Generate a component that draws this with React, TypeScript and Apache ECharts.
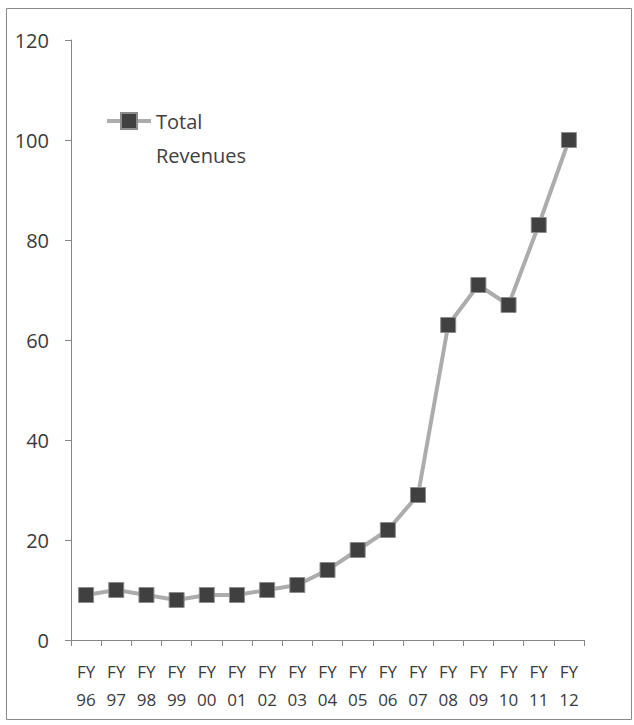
import React, { useEffect, useRef } from "react";
import * as echarts from "echarts";

const categories = ["FY\n96", "FY\n97", "FY\n98", "FY\n99", "FY\n00", "FY\n01", "FY\n02", "FY\n03", "FY\n04", "FY\n05", "FY\n06", "FY\n07", "FY\n08", "FY\n09", "FY\n10", "FY\n11", "FY\n12"];
const totalRevenues = [9, 10, 9, 8, 9, 9, 10, 11, 14, 18, 22, 29, 63, 71, 67, 83, 100];
const seriesName = "Total Revenues";
const yMin = 0;
const yMax = 120;
const yInterval = 20;

const FONT = "'Open Sans', 'Noto Sans', sans-serif";

export default function App() {
  const ref = useRef<HTMLDivElement>(null);
  useEffect(() => {
    if (!ref.current) return;
    const chart = echarts.init(ref.current, undefined, { renderer: "svg" });
    chart.setOption({
      animation: false,
      backgroundColor: "#ffffff",
      textStyle: { fontFamily: FONT },
      graphic: [
        {
          type: "rect",
          shape: { x: 6.5, y: 8.5, width: 625, height: 711 },
          style: { fill: "none", stroke: "#8a8a8a", lineWidth: 1 },
          z: 0,
          silent: true,
        },
      ],
      grid: { left: 71, right: 50, top: 40, bottom: 85, containLabel: false },
      legend: {
        left: 105,
        top: 70,
        padding: 0,
        itemWidth: 44,
        itemHeight: 20,
        itemGap: 5,
        data: [seriesName],
        formatter: () => " \nTotal\nRevenues",
        lineStyle: { color: "#acacac", width: 4 },
        textStyle: {
          fontFamily: FONT,
          fontSize: 20,
          color: "#404040",
          lineHeight: 34,
        },
      },
      xAxis: {
        type: "category",
        data: categories,
        boundaryGap: true,
        axisLine: { show: true, lineStyle: { color: "#868686", width: 1 } },
        axisTick: { show: true, interval: 0, length: 6, inside: false, lineStyle: { color: "#868686" } },
        axisLabel: {
          interval: 0,
          margin: 17,
          fontFamily: FONT,
          fontSize: 17,
          lineHeight: 28,
          color: "#3a3a3a",
        },
        splitLine: { show: false },
      },
      yAxis: {
        type: "value",
        min: yMin,
        max: yMax,
        interval: yInterval,
        axisLine: { show: true, lineStyle: { color: "#868686", width: 1 } },
        axisTick: { show: true, length: 6, inside: false, lineStyle: { color: "#868686" } },
        axisLabel: {
          margin: 22,
          fontFamily: FONT,
          fontSize: 20,
          color: "#3a3a3a",
        },
        splitLine: { show: false },
      },
      series: [
        {
          name: seriesName,
          type: "line",
          data: totalRevenues,
          symbol: "rect",
          symbolSize: 15,
          showAllSymbol: true,
          lineStyle: { color: "#acacac", width: 4 },
          itemStyle: { color: "#404040", borderColor: "#8c8c8c", borderWidth: 1 },
          emphasis: { disabled: true },
        },
      ],
    });
    return () => chart.dispose();
  }, []);
  return (
    <div
      ref={ref}
      style={{ position: "fixed", left: 0, top: 0, width: 634, height: 725 }}
    />
  );
}
